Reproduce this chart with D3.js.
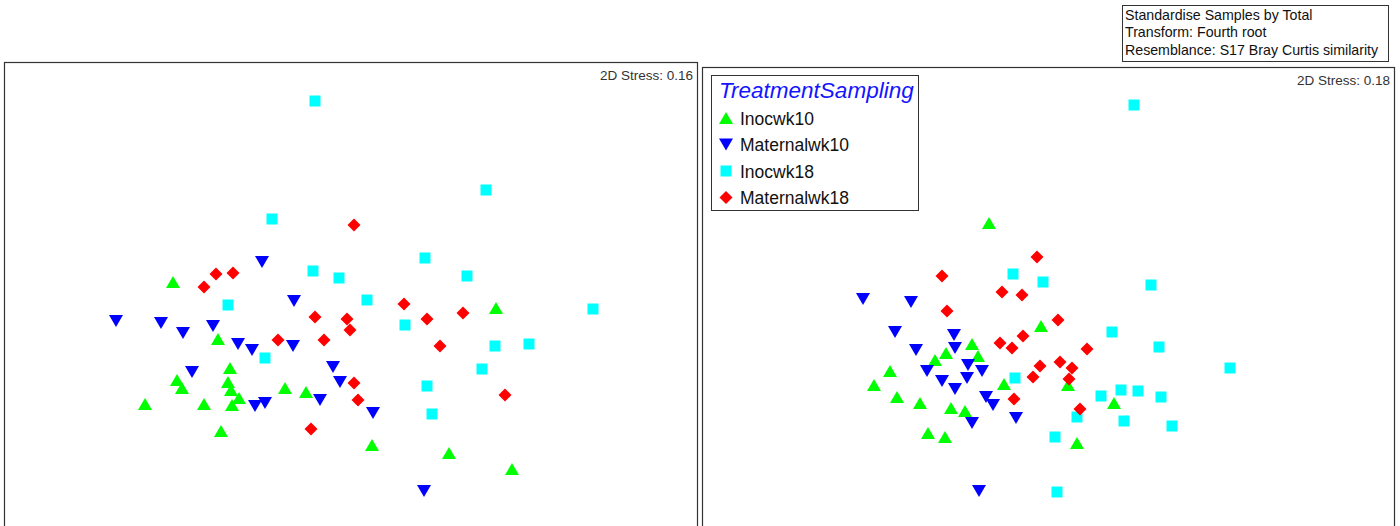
<!DOCTYPE html>
<head>
  <meta charset="utf-8">
  <script src="https://d3js.org/d3.v7.min.js"></script>
  <style>
    body { margin:0; background:#fff; }
    text { font-family: "Liberation Sans", Arial, sans-serif; }
  </style>
</head>
<body>
<svg width="1400" height="526"></svg>
<script>

// group names, in legend order
const groups = ["Inocwk10", "Maternalwk10", "Inocwk18", "Maternalwk18"]
const colors = ["#00ff00", "#0000ff", "#00ffff", "#ff0000"]
const infoLines = ["Standardise Samples by Total", "Transform: Fourth root", "Resemblance: S17 Bray Curtis similarity"]
const stress = [0.16, 0.18]

// nMDS coordinates, left ordination  [x, y]
const leftInocwk10 = [[-1.77,0.18],[-1.32,-0.39],[-1.20,-0.68],[-1.73,-0.80],[-1.68,-0.88],[-1.22,-0.82],
  [-1.19,-0.90],[-1.11,-0.98],[-1.18,-1.05],[-2.05,-1.04],[-1.46,-1.04],[-0.65,-0.88],[-0.44,-0.92],
  [-1.29,-1.31],[1.46,-0.08],[0.22,-1.45],[0.99,-1.53],[1.62,-1.69]]
const leftMaternalwk10 = [[-0.88,0.38],[-0.56,-0.01],[-2.34,-0.21],[-1.89,-0.23],[-1.67,-0.33],[-1.37,-0.26],
  [-1.12,-0.44],[-0.98,-0.50],[-0.57,-0.46],[-1.58,-0.72],[-0.17,-0.67],[-0.10,-0.82],[-0.30,-1.00],
  [-0.95,-1.06],[-0.85,-1.03],[0.23,-1.13],[0.74,-1.91]]
const leftInocwk18 = [[-0.35,1.99],[1.36,1.10],[-0.78,0.81],[0.75,0.42],[-0.37,0.29],[-0.11,0.22],
  [1.17,0.24],[-1.22,-0.05],[0.17,0.00],[2.43,-0.09],[0.55,-0.25],[1.79,-0.44],[1.45,-0.46],
  [-0.85,-0.58],[1.32,-0.69],[0.77,-0.86],[0.82,-1.14]]
const leftMaternalwk18 = [[-1.34,0.26],[-1.17,0.27],[-1.46,0.13],[0.04,0.75],[0.54,-0.04],[-0.35,-0.17],
  [-0.03,-0.19],[0.00,-0.30],[0.77,-0.19],[1.13,-0.13],[-0.26,-0.40],[-0.72,-0.40],[0.90,-0.46],
  [0.04,-0.83],[0.08,-1.00],[1.55,-0.95],[-0.39,-1.29]]

// nMDS coordinates, right ordination
const rightInocwk10 = [[-0.61,1.27],[-0.09,0.24],[-0.78,0.06],[-1.04,-0.03],[-0.72,-0.06],[-1.15,-0.10],
  [-1.60,-0.21],[-1.76,-0.35],[-1.53,-0.47],[-1.30,-0.53],[-0.99,-0.58],[-0.85,-0.61],[-0.46,-0.34],
  [0.18,-0.35],[-1.22,-0.83],[-1.05,-0.87],[0.27,-0.93],[0.64,-0.53]]
const rightMaternalwk10 = [[-1.87,0.51],[-1.39,0.48],[-1.55,0.18],[-0.96,0.15],[-1.34,0.00],[-0.95,0.02],
  [-1.23,-0.21],[-0.82,-0.15],[-0.68,-0.21],[-1.08,-0.31],[-0.83,-0.28],[-0.95,-0.39],[-0.64,-0.47],
  [-0.57,-0.55],[-0.78,-0.73],[-0.34,-0.68],[-0.71,-1.41]]
const rightInocwk18 = [[0.84,2.45],[-0.37,0.76],[-0.07,0.68],[1.01,0.65],[0.62,0.18],[1.09,0.03],
  [1.80,-0.18],[-0.35,-0.28],[0.51,-0.46],[0.71,-0.40],[0.88,-0.41],[1.11,-0.47],[0.27,-0.67],
  [0.74,-0.71],[1.22,-0.76],[0.05,-0.87],[0.07,-1.42]]
const rightMaternalwk18 = [[-0.13,0.93],[-1.08,0.74],[-0.48,0.58],[-0.28,0.55],[-1.03,0.39],[0.08,0.30],
  [-0.27,0.14],[-0.50,0.07],[-0.38,0.02],[0.37,0.01],[-0.10,-0.16],[0.10,-0.12],[0.22,-0.18],
  [-0.17,-0.27],[0.19,-0.29],[-0.36,-0.49],[0.30,-0.59]]

// PRIMER style symbols
const triUp = { draw(c) { c.moveTo(0,-6); c.lineTo(7,6); c.lineTo(-7,6); c.closePath() } }
const triDown = { draw(c) { c.moveTo(0,6); c.lineTo(7,-6); c.lineTo(-7,-6); c.closePath() } }
const square = { draw(c) { c.rect(-5.5,-5.5,11,11) } }
const diamond = { draw(c) { c.moveTo(0,-6.5); c.lineTo(6.5,0); c.lineTo(0,6.5); c.lineTo(-6.5,0); c.closePath() } }
const shapes = [triUp, triDown, square, diamond]

const svg = d3.select("svg")

const panels = [
  {x0:4,   x1:697,  y0:62, cx:350,  cy:300, stress:stress[0],
   sets:[leftInocwk10, leftMaternalwk10, leftInocwk18, leftMaternalwk18]},
  {x0:702, x1:1394, y0:67, cx:1050, cy:350, stress:stress[1],
   sets:[rightInocwk10, rightMaternalwk10, rightInocwk18, rightMaternalwk18]}
]

panels.forEach(function(p) {
  const x = d3.scaleLinear().domain([-1, 1]).range([p.cx - 100, p.cx + 100])
  const y = d3.scaleLinear().domain([-1, 1]).range([p.cy + 100, p.cy - 100])

  svg.append("rect")
      .attr("x", p.x0 + 0.5).attr("y", p.y0 + 0.5)
      .attr("width", p.x1 - p.x0).attr("height", 600)
      .attr("fill", "none").attr("stroke", "#333").attr("stroke-width", 1.2)

  svg.append("text")
      .attr("x", p.x1 - 4).attr("y", p.y0 + 18)
      .attr("text-anchor", "end")
      .attr("font-size", 13.5).attr("fill", "#333")
      .text("2D Stress: " + d3.format(".2f")(p.stress))

  const g = svg.append("g")
  p.sets.forEach(function(pts, i) {
    g.selectAll(null)
      .data(pts)
      .enter().append("path")
        .attr("d", d3.symbol().type(shapes[i]))
        .attr("transform", d => "translate(" + x(d[0]) + "," + y(d[1]) + ")")
        .attr("fill", colors[i])
  })
})

// legend
const lg = svg.append("g").attr("transform", "translate(711,75)")
lg.append("rect").attr("x", 0.5).attr("y", 0.5).attr("width", 207).attr("height", 135)
    .attr("fill", "#fff").attr("stroke", "#333")
lg.append("text").attr("x", 8).attr("y", 23)
    .attr("font-size", 22.5).attr("font-style", "italic").attr("fill", "#1414ff")
    .text("TreatmentSampling")
groups.forEach(function(name, i) {
  const yy = 43 + i * 26.5
  lg.append("path").attr("d", d3.symbol().type(shapes[i]))
      .attr("transform", "translate(15," + yy + ")").attr("fill", colors[i])
  lg.append("text").attr("x", 29).attr("y", yy + 6.5)
      .attr("font-size", 17.5).attr("fill", "#111").text(name)
})

// transform info box
const ib = svg.append("g").attr("transform", "translate(1122,5)")
ib.append("rect").attr("x", 0.5).attr("y", 0.5).attr("width", 266).attr("height", 56)
    .attr("fill", "#fff").attr("stroke", "#333")
infoLines.forEach(function(t, i) {
  ib.append("text").attr("x", 3).attr("y", 14.5 + i * 17.8)
      .attr("font-size", 14.2).attr("fill", "#111").text(t)
})

</script>
</body>
